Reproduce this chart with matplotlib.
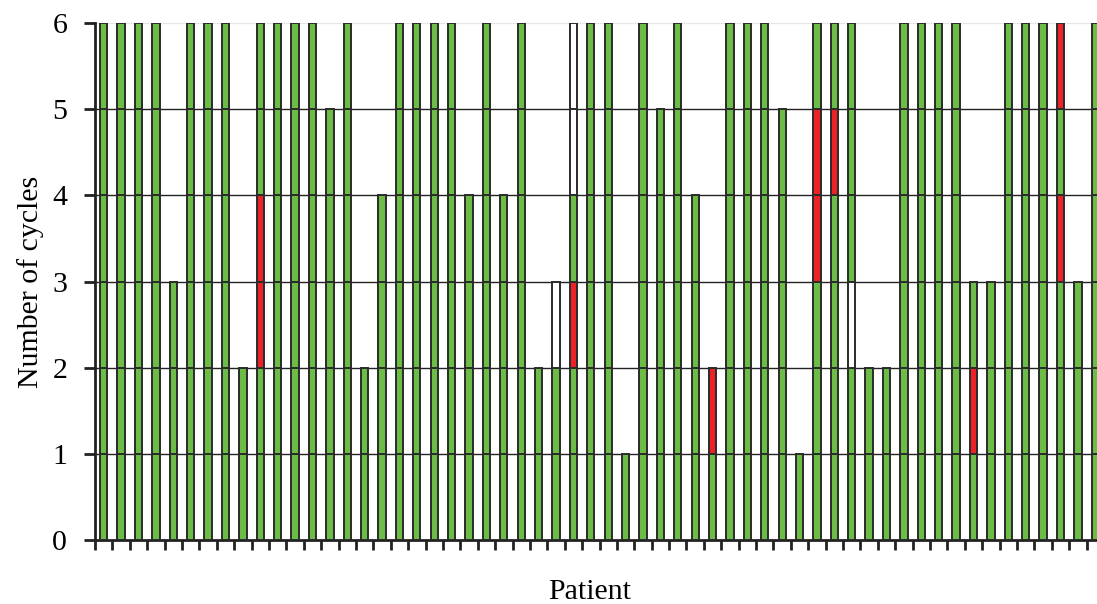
import matplotlib
matplotlib.use("Agg")
import matplotlib.pyplot as plt

# Per-patient cycle status, one character per cycle from the bottom:
# G = green, R = red, W = white (empty)
patients = list(range(1, 59))
cycle_status = [
    "GGGGGG", "GGGGGG", "GGGGGG", "GGGGGG", "GGG", "GGGGGG", "GGGGGG", "GGGGGG",
    "GG", "GGRRGG", "GGGGGG", "GGGGGG", "GGGGGG", "GGGGG", "GGGGGG", "GG",
    "GGGG", "GGGGGG", "GGGGGG", "GGGGGG", "GGGGGG", "GGGG", "GGGGGG", "GGGG",
    "GGGGGG", "GG", "GGW", "GGRGWW", "GGGGGG", "GGGGGG", "G", "GGGGGG",
    "GGGGG", "GGGGGG", "GGGG", "GR", "GGGGGG", "GGGGGG", "GGGGGG", "GGGGG",
    "G", "GGGRRG", "GGGGRG", "GGWGGG", "GG", "GG", "GGGGGG", "GGGGGG",
    "GGGGGG", "GGGGGG", "GRG", "GGG", "GGGGGG", "GGGGGG", "GGGGGG", "GGGRGR",
    "GGG", "GGGGGG",
]
y_ticks = [0, 1, 2, 3, 4, 5, 6]
status_colors = {"G": "#6BBD45", "R": "#EC2227", "W": "#FFFFFF"}

plt.rcParams["font.family"] = ["Liberation Serif", "DejaVu Serif"]
FS = 21.5

fig = plt.figure(figsize=(10.97, 6.04), dpi=100)
ax = fig.add_axes([95 / 1097, 64 / 604, (1104 - 95) / 1097, (540 - 23) / 604])

n = len(patients)
for i, status in enumerate(cycle_status):
    for c, s in enumerate(status):
        ax.bar(i, 1, bottom=c, width=0.42, color=status_colors[s],
               edgecolor="#2b2b2b", linewidth=1.4, zorder=3)

ax.set_xlim(-0.5, n - 0.5)
ax.set_ylim(0, 6)
ax.set_yticks(y_ticks)
ax.set_yticklabels([str(v) for v in y_ticks], fontsize=FS)
ax.set_xticks([i - 0.5 for i in range(n + 1)])
ax.set_xticklabels([])

for v in y_ticks[1:-1]:
    ax.axhline(v, color="#222222", linewidth=1.0, zorder=1)
ax.axhline(6, color="#e6e6e6", linewidth=1.0, zorder=1)

for side in ["top", "right"]:
    ax.spines[side].set_visible(False)
ax.spines["left"].set_linewidth(2.0)
ax.spines["bottom"].set_linewidth(2.0)
ax.spines["left"].set_color("#222222")
ax.spines["bottom"].set_color("#222222")
ax.tick_params(axis="y", length=8, width=2, color="#222222", pad=12)
ax.tick_params(axis="x", length=7, width=2, color="#222222")

ax.set_ylabel("Number of cycles", fontsize=FS, labelpad=6)
fig.text(590 / 1097, 5 / 604, "Patient", fontsize=FS, ha="center", va="baseline")

fig.savefig("out.png", dpi=100)
